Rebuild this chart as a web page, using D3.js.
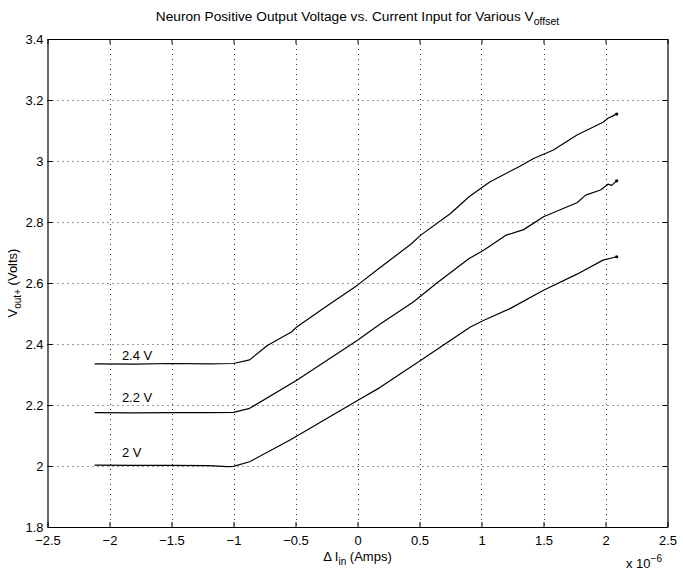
<!DOCTYPE html>
<html>
<head>
<meta charset="utf-8">
<script src="https://cdn.jsdelivr.net/npm/d3@7"></script>
<style>
  html, body { margin: 0; padding: 0; background: #fff; }
  svg { display: block; font-family: "Liberation Sans", Arial, Helvetica, sans-serif; }
</style>
</head>
<body>
<svg id="chart" width="683" height="571"></svg>
<script>
// ---- data ----
const xTicks = [-2.5, -2, -1.5, -1, -0.5, 0, 0.5, 1, 1.5, 2, 2.5];
const xTickLabels = ["\u22122.5", "\u22122", "\u22121.5", "\u22121", "\u22120.5", "0", "0.5", "1", "1.5", "2", "2.5"];
const yTicks = [1.8, 2, 2.2, 2.4, 2.6, 2.8, 3, 3.2, 3.4];
const yTickLabels = ["1.8", "2", "2.2", "2.4", "2.6", "2.8", "3", "3.2", "3.4"];

const seriesNames = ["2.4 V", "2.2 V", "2 V"];
const labelY = [2.363, 2.226, 2.046];
const labelX = -1.90;

const x24 = [-2.12, -1.8, -1.5, -1.2, -1.0, -0.87, -0.73, -0.53, -0.49, -0.25, 0, 0.18, 0.43, 0.51, 0.75, 0.9, 1.02, 1.07, 1.31, 1.42, 1.58, 1.77, 1.98, 2.02, 2.06, 2.09];
const v24 = [2.335, 2.334, 2.336, 2.335, 2.336, 2.348, 2.394, 2.440, 2.456, 2.524, 2.593, 2.650, 2.727, 2.757, 2.828, 2.883, 2.918, 2.932, 2.983, 3.008, 3.036, 3.085, 3.127, 3.140, 3.148, 3.154];

const x22 = [-2.12, -1.8, -1.5, -1.2, -1.0, -0.87, -0.49, 0, 0.18, 0.45, 0.64, 0.9, 1.02, 1.2, 1.34, 1.5, 1.77, 1.84, 1.96, 2.02, 2.05, 2.09];
const v22 = [2.175, 2.174, 2.175, 2.175, 2.176, 2.189, 2.281, 2.412, 2.465, 2.538, 2.600, 2.680, 2.708, 2.757, 2.775, 2.817, 2.863, 2.888, 2.905, 2.924, 2.920, 2.935];

const x20 = [-2.12, -1.8, -1.5, -1.2, -1.05, -1.0, -0.87, -0.54, 0, 0.18, 0.52, 0.91, 1.02, 1.23, 1.5, 1.77, 1.98, 2.09];
const v20 = [2.003, 2.002, 2.002, 2.001, 1.998, 1.999, 2.014, 2.086, 2.215, 2.257, 2.349, 2.456, 2.478, 2.516, 2.576, 2.629, 2.675, 2.686];

const seriesX = [x24, x22, x20];
const seriesV = [v24, v22, v20];

// ---- layout ----
const svg = d3.select("#chart");
const L = 47.5, R = 667.5, T = 39, B = 527;
const x = d3.scaleLinear().domain([-2.5, 2.5]).range([L, R]);
const y = d3.scaleLinear().domain([1.8, 3.4]).range([B, T]);

// grid
const grid = svg.append("g").attr("stroke", "#000").attr("stroke-width", 0.8).attr("stroke-dasharray", "1,4");
grid.selectAll("line.gx").data(xTicks.slice(1, -1)).enter().append("line")
  .attr("x1", d => Math.round(x(d)) + 0.5).attr("x2", d => Math.round(x(d)) + 0.5)
  .attr("y1", T).attr("y2", B);
grid.selectAll("line.gy").data(yTicks.slice(1, -1)).enter().append("line")
  .attr("y1", d => Math.round(y(d)) + 0.5).attr("y2", d => Math.round(y(d)) + 0.5)
  .attr("x1", L).attr("x2", R);

// axes (ticks inward, box)
const fmtX = (d, i) => xTickLabels[i];
const fmtY = (d, i) => yTickLabels[i];
const axB = svg.append("g").attr("transform", `translate(0,${B})`)
  .call(d3.axisBottom(x).tickValues(xTicks).tickFormat(fmtX).tickSizeInner(-5).tickSizeOuter(0).tickPadding(9));
const axT = svg.append("g").attr("transform", `translate(0,${T})`)
  .call(d3.axisTop(x).tickValues(xTicks).tickFormat("").tickSizeInner(-5).tickSizeOuter(0));
const axL = svg.append("g").attr("transform", `translate(${L},0)`)
  .call(d3.axisLeft(y).tickValues(yTicks).tickFormat(fmtY).tickSizeInner(-5).tickSizeOuter(0).tickPadding(4));
const axR = svg.append("g").attr("transform", `translate(${R},0)`)
  .call(d3.axisRight(y).tickValues(yTicks).tickFormat("").tickSizeInner(-5).tickSizeOuter(0));
[axB, axT, axL, axR].forEach(a => {
  a.selectAll("path.domain").attr("stroke", "#000").attr("stroke-width", 1.2);
  a.selectAll(".tick line").attr("stroke", "#000").attr("stroke-width", 1);
  a.selectAll("text").attr("fill", "#000").attr("font-size", 13).attr("font-family", "Liberation Sans, Arial, sans-serif");
});
axB.selectAll("text").attr("dy", "0.71em");

// lines
const line = d3.line().x(d => x(d[0])).y(d => y(d[1]));
seriesX.forEach((xs, i) => {
  const pts = xs.map((v, j) => [v, seriesV[i][j]]);
  svg.append("path").datum(pts).attr("d", line)
    .attr("fill", "none").attr("stroke", "#000").attr("stroke-width", 1.2).attr("stroke-linejoin", "round");
  const last = pts[pts.length - 1];
  svg.append("circle").attr("cx", x(last[0])).attr("cy", y(last[1])).attr("r", 1.6).attr("fill", "#000");
  svg.append("text").attr("x", x(labelX)).attr("y", y(labelY[i])).attr("dy", "0.35em")
    .attr("font-size", 13).attr("fill", "#000").text(seriesNames[i]);
});

// title
const title = svg.append("text").attr("x", (L + R) / 2).attr("y", 21).attr("text-anchor", "middle")
  .attr("font-size", 13.7).attr("fill", "#000");
title.append("tspan").text("Neuron Positive Output Voltage vs. Current Input for Various V");
title.append("tspan").attr("dy", 4).attr("font-size", 10.5).text("offset");

// x label
const xl = svg.append("text").attr("x", (L + R) / 2).attr("y", 561).attr("text-anchor", "middle")
  .attr("font-size", 13).attr("fill", "#000");
xl.append("tspan").text("Δ I");
xl.append("tspan").attr("dy", 4).attr("font-size", 10).text("in");
xl.append("tspan").attr("dy", -4).text(" (Amps)");

// y label
const yl = svg.append("text").attr("transform", `translate(17,${(T + B) / 2}) rotate(-90)`)
  .attr("text-anchor", "middle").attr("font-size", 13).attr("fill", "#000");
yl.append("tspan").text("V");
yl.append("tspan").attr("dy", 4).attr("font-size", 10).text("out+");
yl.append("tspan").attr("dy", -4).text(" (Volts)");

// exponent
const ex = svg.append("text").attr("x", 626).attr("y", 568).attr("font-size", 13).attr("fill", "#000");
ex.append("tspan").text("x 10");
ex.append("tspan").attr("dy", -6).attr("font-size", 10).text("\u22126");
</script>
</body>
</html>
